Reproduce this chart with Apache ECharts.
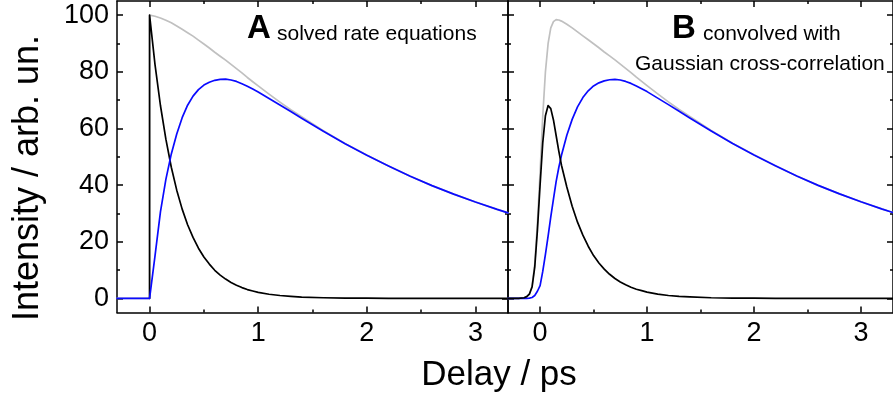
<!DOCTYPE html>
<html>
<head>
<meta charset="utf-8">
<script src="https://cdn.jsdelivr.net/npm/echarts@6/dist/echarts.min.js"></script>
<style>
  html, body { margin: 0; padding: 0; background: #fff; }
  #chart { width: 893px; height: 400px; }
</style>
</head>
<body>
<div id="chart"></div>
<script>
// Panel A: solved rate equations (delay in ps, intensity in arb. units)
const delayA = [-0.3, 0, 0, 0.05, 0.1, 0.15, 0.2, 0.25, 0.3, 0.35, 0.4, 0.45, 0.5, 0.55, 0.6, 0.65,
  0.7, 0.75, 0.8, 0.85, 0.9, 0.95, 1.0, 1.1, 1.2, 1.3, 1.4, 1.6, 1.8, 2.0, 2.2, 2.4, 2.6, 2.8, 3.0, 3.2, 3.3];
// first-state population only starts at zero delay
const blackA = [null, 0, 100, 82.5, 68.1, 56.2, 46.3, 38.2, 31.5, 26.0, 21.5, 17.7, 14.6, 12.1, 9.9, 8.2,
  6.8, 5.6, 4.6, 3.8, 3.1, 2.6, 2.1, 1.45, 1.0, 0.7, 0.45, 0.2, 0.1, 0.05, 0.02, 0, 0, 0, 0, 0, 0];
const blueA = [0, 0, 0, 15, 30.5, 42, 51, 58, 63.8, 68.2, 71.4, 73.7, 75.3, 76.3, 77.0, 77.35,
  77.4, 77.1, 76.6, 75.8, 74.9, 73.9, 72.9, 70.6, 68.3, 66.0, 63.6, 59.0, 54.6, 50.5, 46.7, 43.1, 39.8, 36.8, 34.0, 31.4, 30.2];
const greyA = [0, 0, 100, 99.6, 99.0, 98.2, 97.3, 96.2, 95.0, 93.8, 92.6, 91.2, 89.8, 88.4, 86.9, 85.5,
  84.1, 82.6, 81.1, 79.6, 78.0, 76.5, 75.0, 72.1, 69.3, 66.6, 64.1, 59.2, 54.7, 50.6, 46.7, 43.1, 39.8, 36.8, 34.0, 31.4, 30.2];

// Panel B: the same populations convolved with a Gaussian cross-correlation
const delayB = [-0.3, -0.2, -0.15, -0.125, -0.1, -0.075, -0.05, -0.025, 0, 0.025, 0.05, 0.075, 0.1, 0.125, 0.15, 0.175, 0.2,
  0.25, 0.3, 0.35, 0.4, 0.45, 0.5, 0.55, 0.6, 0.65, 0.7, 0.75, 0.8, 0.85, 0.9, 0.95, 1.0,
  1.1, 1.2, 1.3, 1.4, 1.6, 1.8, 2.0, 2.2, 2.4, 2.6, 2.8, 3.0, 3.2, 3.3];
const blackB = [0, 0, 0.2, 0.6, 1.5, 4, 11, 24, 40, 55, 64.5, 68.1, 67, 63, 57.5, 52, 47,
  39.3, 32.5, 26.9, 22.3, 18.4, 15.1, 12.5, 10.3, 8.5, 7.0, 5.8, 4.8, 3.9, 3.2, 2.7, 2.2,
  1.5, 1.0, 0.7, 0.5, 0.2, 0.1, 0.05, 0.02, 0, 0, 0, 0, 0, 0];
const blueB = [0, 0, 0, 0, 0.1, 0.3, 1.0, 2.5, 4.5, 9.5, 15.5, 22, 28.8, 35, 41.2, 46.2, 50.5,
  57.6, 63.2, 67.6, 70.9, 73.3, 75.0, 76.1, 76.8, 77.2, 77.3, 77.1, 76.6, 75.9, 75.0, 74.0, 73.0,
  70.7, 68.4, 66.1, 63.7, 59.1, 54.7, 50.6, 46.8, 43.2, 39.9, 36.9, 34.1, 31.5, 30.3];
const greyB = [0, 0, 0.2, 0.6, 1.6, 4.3, 12, 26.5, 44.5, 64.5, 80, 90, 95.5, 97.7, 98.4, 98.3, 97.9,
  96.8, 95.5, 94.1, 92.7, 91.3, 89.9, 88.5, 87.0, 85.6, 84.2, 82.7, 81.2, 79.7, 78.1, 76.6, 75.1,
  72.2, 69.4, 66.7, 64.2, 59.3, 54.8, 50.7, 46.8, 43.2, 39.9, 36.9, 34.1, 31.5, 30.3];

// Tick positions and labels
const xMajor = [0, 1, 2, 3];
const xMinor = [-0.5, 0.5, 1.5, 2.5];
const yMajor = [0, 20, 40, 60, 80, 100];
const yMinor = [10, 30, 50, 70, 90];

const FONT = '"Liberation Sans", Arial, Helvetica, sans-serif';
const AXIS_LINE = { color: '#000', width: 1.5 };
const TICK_FONT = 27;

function xAxes(grid, withLabels) {
  const base = { gridIndex: grid, type: 'value', min: -0.3, max: 3.3, splitLine: { show: false } };
  return [
    Object.assign({}, base, {
      position: 'bottom',
      axisLine: { show: true, onZero: false, lineStyle: AXIS_LINE },
      axisTick: { show: true, inside: true, length: 6, customValues: xMajor, lineStyle: AXIS_LINE },
      axisLabel: { show: withLabels, customValues: xMajor, fontSize: TICK_FONT, fontFamily: FONT, color: '#000', margin: 8 }
    }),
    Object.assign({}, base, {
      position: 'bottom',
      axisLine: { show: false, onZero: false },
      axisTick: { show: true, inside: true, length: 3, customValues: xMinor, lineStyle: AXIS_LINE },
      axisLabel: { show: false }
    }),
    Object.assign({}, base, {
      position: 'top',
      axisLine: { show: true, onZero: false, lineStyle: AXIS_LINE },
      axisTick: { show: true, inside: true, length: 6, customValues: xMajor, lineStyle: AXIS_LINE },
      axisLabel: { show: false }
    }),
    Object.assign({}, base, {
      position: 'top',
      axisLine: { show: false, onZero: false },
      axisTick: { show: true, inside: true, length: 3, customValues: xMinor, lineStyle: AXIS_LINE },
      axisLabel: { show: false }
    })
  ];
}

function yAxes(grid, withLabels) {
  const base = { gridIndex: grid, type: 'value', min: -5, max: 105, splitLine: { show: false } };
  return [
    Object.assign({}, base, {
      position: 'left',
      axisLine: { show: true, onZero: false, lineStyle: AXIS_LINE },
      axisTick: { show: true, inside: true, length: 6, customValues: yMajor, lineStyle: AXIS_LINE },
      axisLabel: { show: withLabels, customValues: yMajor, fontSize: TICK_FONT, fontFamily: FONT, color: '#000', margin: 8 }
    }),
    Object.assign({}, base, {
      position: 'left',
      axisLine: { show: false, onZero: false },
      axisTick: { show: true, inside: true, length: 3, customValues: yMinor, lineStyle: AXIS_LINE },
      axisLabel: { show: false }
    }),
    Object.assign({}, base, {
      position: 'right',
      axisLine: { show: true, onZero: false, lineStyle: AXIS_LINE },
      axisTick: { show: true, inside: true, length: 6, customValues: yMajor, lineStyle: AXIS_LINE },
      axisLabel: { show: false }
    }),
    Object.assign({}, base, {
      position: 'right',
      axisLine: { show: false, onZero: false },
      axisTick: { show: true, inside: true, length: 3, customValues: yMinor, lineStyle: AXIS_LINE },
      axisLabel: { show: false }
    })
  ];
}

function pairs(xs, ys) {
  return xs.map((x, i) => [x, ys[i] === null ? '-' : ys[i]]);
}

function curve(name, xs, ys, color, axisOffset) {
  return {
    name: name,
    type: 'line',
    xAxisIndex: axisOffset,
    yAxisIndex: axisOffset,
    data: pairs(xs, ys),
    showSymbol: false,
    symbol: 'none',
    smooth: false,
    connectNulls: false,
    lineStyle: { color: color, width: 1.7, join: 'round', cap: 'round' },
    silent: true,
    animation: false
  };
}

const GREY = '#c0c0c0', BLUE = '#0a0aff', BLACK = '#000000';

const option = {
  backgroundColor: '#ffffff',
  animation: false,
  grid: [
    { left: 117, top: 1, width: 391, height: 311.5 },
    { left: 508, top: 1, width: 390, height: 311.5 }
  ],
  xAxis: xAxes(0, true).concat(xAxes(1, true)),
  yAxis: yAxes(0, true).concat(yAxes(1, false)),
  series: [
    curve('A total', delayA, greyA, GREY, 0),
    curve('A first state', delayA, blackA, BLACK, 0),
    curve('A second state', delayA, blueA, BLUE, 0),
    curve('B total', delayB, greyB, GREY, 4),
    curve('B second state', delayB, blueB, BLUE, 4),
    curve('B first state', delayB, blackB, BLACK, 4)
  ],
  graphic: [
    { type: 'text', left: 247, top: 12, silent: true,
      style: { text: 'A', font: 'bold 33px ' + FONT, fill: '#000' } },
    { type: 'text', x: 277, y: 34.3, silent: true,
      style: { text: 'solved rate equations', font: '21px ' + FONT, fill: '#000', verticalAlign: 'middle' } },
    { type: 'text', left: 672, top: 12, silent: true,
      style: { text: 'B', font: 'bold 33px ' + FONT, fill: '#000' } },
    { type: 'text', x: 703, y: 34.3, silent: true,
      style: { text: 'convolved with', font: '21px ' + FONT, fill: '#000', verticalAlign: 'middle' } },
    { type: 'text', x: 635, y: 64.3, silent: true,
      style: { text: 'Gaussian cross-correlation', font: '21px ' + FONT, fill: '#000', verticalAlign: 'middle' } },
    { type: 'text', x: 499, y: 375, silent: true,
      style: { text: 'Delay / ps', font: '35px ' + FONT, fill: '#000', align: 'center', verticalAlign: 'middle' } },
    { type: 'text', x: 28, y: 178, rotation: Math.PI / 2, silent: true,
      style: { text: 'Intensity / arb. un.', font: '36px ' + FONT, fill: '#000', align: 'center', verticalAlign: 'middle' } }
  ]
};

const chart = echarts.init(document.getElementById('chart'), null, { renderer: 'canvas' });
chart.setOption(option);
</script>
</body>
</html>
